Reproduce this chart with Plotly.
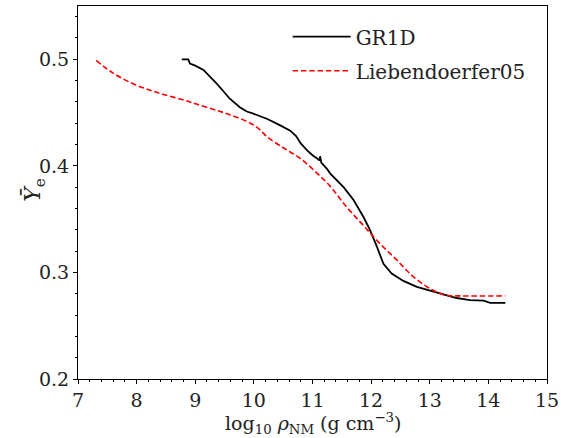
import plotly.graph_objects as go

gr1d_x = [8.77, 8.88, 8.91, 9.00, 9.14, 9.25, 9.37, 9.48, 9.59, 9.76, 9.88, 9.99,
          10.23, 10.45, 10.62, 10.72, 10.80, 10.90, 11.00, 11.08, 11.12, 11.13, 11.15,
          11.25, 11.30, 11.53, 11.70, 11.87, 11.98, 12.10, 12.21, 12.35, 12.55, 12.78,
          13.00, 13.23, 13.46, 13.69, 13.92, 14.03, 14.29]
gr1d_y = [0.500, 0.500, 0.496, 0.494, 0.490, 0.484, 0.477, 0.470, 0.463, 0.455, 0.451, 0.449,
          0.444, 0.438, 0.433, 0.428, 0.421, 0.415, 0.410, 0.407, 0.405, 0.409, 0.403,
          0.397, 0.393, 0.380, 0.368, 0.352, 0.340, 0.324, 0.308, 0.299, 0.292, 0.2865,
          0.283, 0.279, 0.276, 0.274, 0.2735, 0.2715, 0.2715]

lieb_x = [7.31, 7.60, 7.94, 8.23, 8.46, 8.79, 9.02, 9.37, 9.59, 9.94, 10.10, 10.23,
          10.50, 10.79, 11.08, 11.30, 11.58, 11.87, 12.15, 12.44, 12.72, 13.00, 13.26,
          13.50, 14.29]
lieb_y = [0.499, 0.487, 0.477, 0.471, 0.467, 0.462, 0.458, 0.452, 0.448, 0.440, 0.434, 0.427,
          0.417, 0.407, 0.393, 0.381, 0.3615, 0.344, 0.327, 0.3115, 0.296, 0.285, 0.2787,
          0.278, 0.278]

x_ticks = [7, 8, 9, 10, 11, 12, 13, 14, 15]
y_ticks = [0.2, 0.3, 0.4, 0.5]

FONT = "DejaVu Serif"
TXT = "#222"

fig = go.Figure()
fig.add_trace(go.Scatter(x=gr1d_x, y=gr1d_y, mode="lines", name="GR1D",
                         legendgroup="a",
                         line=dict(color="black", width=1.8)))
fig.add_trace(go.Scatter(x=lieb_x, y=lieb_y, mode="lines", name="Liebendoerfer05",
                         legendgroup="b",
                         line=dict(color="red", width=1.6, dash="5.5px,2.8px", shape="spline")))

axis_common = dict(showline=True, linecolor="black", linewidth=1, mirror=True,
                   ticks="outside", ticklen=4, tickwidth=1, tickcolor="black",
                   showgrid=False, zeroline=False, automargin=False,
                   tickfont=dict(family=FONT, size=19, color=TXT))

fig.update_xaxes(range=[7, 15], tickvals=x_ticks, ticktext=[str(v) for v in x_ticks],
                 minor=dict(dtick=0.2, ticks="outside", ticklen=2, tickcolor="black"),
                 **axis_common)
fig.update_yaxes(range=[0.2, 0.55], tickvals=y_ticks, ticktext=[f"{v:.1f}" for v in y_ticks],
                 minor=dict(dtick=0.02, ticks="outside", ticklen=2, tickcolor="black"),
                 **axis_common)

fig.add_annotation(text="log<sub>10</sub> <i>ρ</i><sub>NM</sub> (g cm<sup>−3</sup>)",
                   xref="paper", yref="paper", x=0.5, y=-0.12, xanchor="center", yanchor="middle",
                   showarrow=False, font=dict(family=FONT, size=19, color=TXT))
fig.add_annotation(text="<i>Y\u0304</i><sub>e</sub>", textangle=-90,
                   xref="paper", yref="paper", x=-0.092, y=0.507, xanchor="center", yanchor="middle",
                   showarrow=False, font=dict(family=FONT, size=22, color=TXT))

fig.update_layout(
    width=561, height=438,
    margin=dict(l=78, r=14, t=6, b=59),
    plot_bgcolor="white", paper_bgcolor="white",
    font=dict(family=FONT),
    legend=dict(x=0.447, y=0.97, xanchor="left", yanchor="top",
                bgcolor="rgba(0,0,0,0)", borderwidth=0, tracegroupgap=5,
                itemwidth=58,
                font=dict(family=FONT, size=20, color=TXT)),
)

fig.write_html("out.html")
